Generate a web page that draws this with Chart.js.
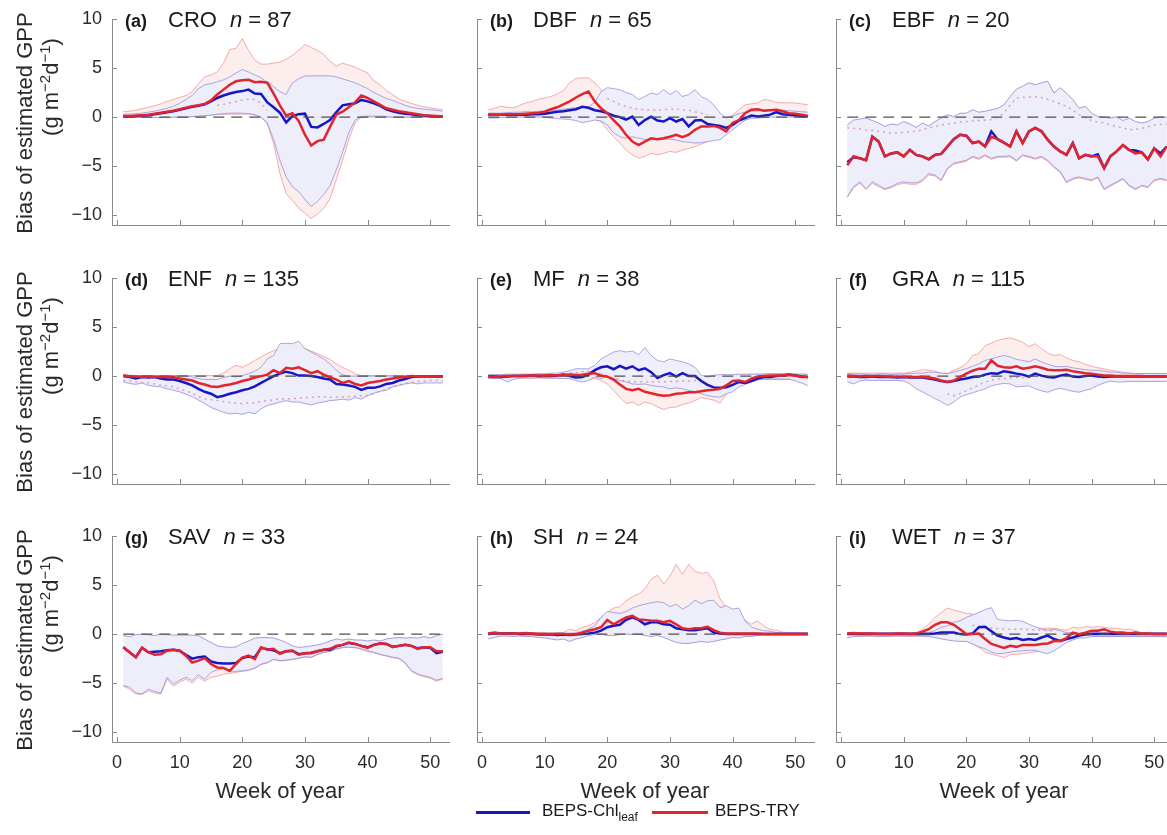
<!DOCTYPE html>
<html><head><meta charset="utf-8">
<script src="https://cdn.jsdelivr.net/npm/chart.js@4.4.1/dist/chart.umd.min.js"></script>
<style>
html,body{margin:0;padding:0;background:#fff;}
body{width:1167px;height:835px;overflow:hidden;position:relative;font-family:"Liberation Sans",Arial,Helvetica,sans-serif;color:#222;}
canvas{position:absolute;}
.ttl{position:absolute;font-size:22px;white-space:nowrap;line-height:24px;color:#1a1a1a;}
.ttl b{display:inline-block;width:43px;font-size:18px;}
.yt{position:absolute;white-space:nowrap;transform:translate(-50%,-50%) rotate(-90deg);font-size:22px;color:#2a2a2a;line-height:24px;}
.yt sup{font-size:15px;vertical-align:8px;line-height:0;}
.xt{position:absolute;white-space:nowrap;transform:translate(-50%,-50%);font-size:22px;color:#2a2a2a;}
.lg{position:absolute;height:3px;}
.lt{position:absolute;white-space:nowrap;font-size:17px;color:#1a1a1a;transform:translateY(-50%);}
.lt sub{font-size:12px;vertical-align:-5px;line-height:0;}
</style></head><body>
<script>
// ---------------- DATA ----------------
const weeks = [1,2,3,4,5,6,7,8,9,10,11,12,13,14,15,16,17,18,19,20,21,22,23,24,25,26,27,28,29,30,31,32,33,34,35,36,37,38,39,40,41,42,43,44,45,46,47,48,49,50,51,52];
const xTicks = [0,10,20,30,40,50];
const yTicks = [-10,-5,0,5,10];

// (a) CRO
const croBlue = [0.05,0.05,0.1,0.15,0.2,0.3,0.4,0.5,0.6,0.75, 0.9,1.05,1.15,1.3,1.6,1.95,2.2,2.4,2.55,2.65, 2.8,2.4,2.35,1.5,1.0,0.45,-0.55,0.1,0.3,0.35, -1.0,-1.05,-0.7,-0.3,0.5,1.2,1.3,1.4,1.75,1.6, 1.4,1.15,0.8,0.6,0.45,0.35,0.3,0.2,0.15,0.1, 0.05,0.05];
const croRed = [0.1,0.1,0.15,0.2,0.25,0.35,0.45,0.55,0.65,0.8, 0.95,1.1,1.2,1.35,1.7,2.3,2.8,3.3,3.65,3.75, 3.8,3.55,3.6,3.5,2.4,1.2,0.15,0.4,-0.4,-1.8, -2.9,-2.45,-2.3,-1.0,0.25,0.55,1.0,1.5,2.2,1.95, 1.6,1.25,0.9,0.75,0.6,0.5,0.4,0.3,0.2,0.15, 0.1,0.05];
const croBlueHi = [0.3,0.3,0.35,0.4,0.5,0.6,0.75,0.9,1.1,1.4, 1.8,2.2,2.9,3.3,3.4,3.6,3.8,4.1,4.5,4.85, 4.6,4.3,4.0,3.55,3.1,2.6,2.3,3.5,3.9,4.2, 4.2,4.2,4.2,4.2,4.1,3.9,3.7,3.5,3.2,2.9, 2.5,2.2,1.9,1.7,1.45,1.2,1.0,0.9,0.8,0.75, 0.7,0.6];
const croBlueLo = [0,0,-0.05,-0.05,-0.05,-0.05,-0.05,-0.05,0,0, 0,0.05,0.1,0.15,0.2,0.3,0.35,0.4,0.4,0.4, 0.35,0.25,0,-0.6,-2.3,-4.4,-6.1,-7.1,-7.6,-8.4, -9.1,-8.6,-7.9,-7.0,-5.4,-3.6,-1.6,-0.3,0.05,0.1, 0.1,0.1,0.05,0,0,0,0,0,0,0, 0,0];
const croRedHi = [0.55,0.6,0.7,0.85,1.0,1.15,1.35,1.6,1.8,2.0, 2.2,2.6,3.4,4.1,4.3,4.6,5.5,6.9,7.0,8.0, 6.8,5.8,5.4,5.4,5.5,5.6,5.9,6.3,6.8,7.4, 7.1,6.8,6.4,5.7,5.2,5.5,5.3,5.1,4.8,4.5, 3.7,3.3,2.7,2.3,1.85,1.6,1.4,1.2,1.05,0.95, 0.85,0.75];
const croRedLo = [0,0,0,0,0,0,0,0,0,0, 0,0.05,0.1,0.15,0.2,0.25,0.3,0.3,0.3,0.3, 0.3,0.2,0,-0.7,-2.7,-5.7,-7.8,-8.5,-9.3,-9.8, -10.35,-9.9,-9.3,-8.3,-6.4,-4.4,-2.3,-0.6,0,0, 0,0,0,0,0,0,0,0,0,0, 0,0];
const croDot = [null,null,null,null,null,null,null,null,null,null, null,null,null,null,null,1.2,1.3,1.45,1.6,1.75, 1.8,1.8,1.4,0.7,null,null,null,null,null,null, null,null,null,null,null,null,null,null,null,null, null,null,null,null,null,null,null,null,null,null, null,null];

// (b) DBF
const dbfBlue = [0.25,0.25,0.25,0.25,0.25,0.25,0.25,0.3,0.3,0.35, 0.45,0.55,0.6,0.7,0.8,1.05,0.95,0.7,0.6,0.4, 0.15,0,-0.25,0.05,-0.8,-0.3,0.05,-0.35,-0.45,-0.1, -0.45,-0.2,-0.95,-0.35,-0.3,-0.7,-0.8,-0.9,-1.1,-0.8, -0.35,-0.1,0.15,0.05,0.15,0.25,0.5,0.3,0.25,0.2, 0.1,0.05];
const dbfRed = [0.25,0.25,0.25,0.3,0.3,0.3,0.35,0.4,0.45,0.55, 0.8,1.0,1.3,1.6,2.0,2.35,2.6,1.6,0.9,0.4, -0.3,-0.95,-1.8,-2.5,-2.85,-2.5,-2.15,-2.25,-2.15,-2.0, -1.8,-2.05,-1.8,-1.3,-0.95,-0.95,-0.9,-1.1,-1.45,-0.6, -0.3,0.4,0.75,0.8,0.65,0.7,0.75,0.6,0.4,0.35, 0.25,0.15];
const dbfBlueHi = [0.4,0.4,0.4,0.45,0.5,0.5,0.55,0.55,0.6,0.6, 0.65,0.7,0.8,0.9,0.95,1.0,1.05,1.5,2.6,3.0, 2.9,2.8,2.5,2.3,1.8,2.1,2.45,2.3,2.8,2.3, 2.7,2.1,2.3,2.8,2.1,1.8,1.25,0.4,-0.1,0.1, 0.35,0.5,0.6,0.65,0.7,0.75,0.75,0.7,0.65,0.6, 0.55,0.5];
const dbfBlueLo = [-0.1,-0.1,-0.05,-0.05,0,0,0,0,0,0, -0.1,-0.15,-0.2,-0.25,-0.35,-0.55,-0.45,-0.3,-0.4,-0.8, -1.6,-2.0,-2.15,-2.0,-2.15,-2.3,-2.3,-2.3,-2.25,-2.25, -2.35,-2.5,-2.55,-2.65,-2.6,-2.5,-2.4,-2.3,-1.8,-1.3, -0.8,-0.3,-0.15,-0.1,-0.05,0,0,0,0,0, 0,0];
const dbfRedHi = [0.75,0.9,1.1,1.0,0.95,1.2,1.45,1.6,1.8,1.95, 2.1,2.35,2.7,3.5,3.95,4.0,4.0,3.5,2.8,2.1, 1.5,1.1,0.9,0.8,0.7,0.7,0.8,0.9,1.0,1.1, 1.2,1.2,1.1,0.9,0.6,0.3,0.1,-0.1,-0.1,0.2, 0.75,1.25,1.35,1.45,1.8,1.7,1.5,1.45,1.45,1.45, 1.35,1.25];
const dbfRedLo = [0.05,0.05,0.05,0.05,0.05,0.05,0.05,0.05,0.05,0.05, 0.05,0,0,0,0.05,0.15,0.1,-0.2,-0.45,-1.3, -2.0,-2.65,-3.35,-3.85,-4.2,-4.0,-3.7,-3.85,-3.7,-3.5, -3.6,-3.35,-3.2,-3.0,-2.75,-2.5,-2.15,-1.8,-1.45,-1.1, -0.6,-0.3,0,0.1,0.1,0.1,0.1,0.1,0.1,0.1, 0.1,0.1];
const dbfDot = [null,null,null,null,null,null,null,null,null,null, null,null,null,null,null,null,null,null,null,1.9, 1.6,1.3,1.1,0.9,0.8,0.75,0.7,0.7,0.75,0.8, 0.8,0.75,0.7,0.55,0.4,0.2,null,null,null,null, null,null,null,null,null,null,null,null,null,null, null,null];

// (c) EBF
const ebfBlue = [-4.6,-4.1,-4.2,-4.4,-2.0,-2.5,-4.0,-3.7,-3.6,-4.0, -3.35,-3.85,-4.0,-4.3,-3.85,-3.75,-3.0,-2.25,-1.8,-1.9, -2.65,-2.5,-3.0,-1.45,-2.25,-2.6,-3.0,-1.45,-2.65,-1.45, -1.1,-1.45,-2.3,-3.0,-3.5,-3.85,-2.65,-4.2,-3.85,-4.0, -3.8,-5.2,-4.0,-3.5,-2.85,-3.35,-3.4,-3.6,-4.3,-3.2, -3.7,-3.0];
const ebfRed = [-4.9,-4.0,-4.2,-4.4,-2.0,-2.5,-4.0,-3.7,-3.6,-4.0, -3.35,-3.85,-4.0,-4.3,-3.85,-3.75,-3.0,-2.25,-1.8,-1.9, -2.65,-2.5,-3.0,-2.0,-2.25,-2.6,-3.0,-1.45,-2.65,-1.45, -1.1,-1.45,-2.3,-3.0,-3.5,-3.85,-2.65,-4.2,-3.85,-4.0, -4.0,-5.2,-4.0,-3.5,-2.85,-3.35,-3.7,-3.6,-4.3,-3.2, -4.0,-3.0];
const ebfBlueHi = [-0.8,-0.3,-0.2,-0.1,-0.35,-0.6,-0.95,-0.7,-0.8,-0.45, -0.7,-1.05,-0.6,-0.9,-0.45,-0.1,0.25,0.05,0.4,0.4, 0.75,0.5,0.6,0.75,0.9,1.25,2.1,2.85,3.15,3.5, 3.3,3.5,3.65,2.45,3.0,2.45,1.8,0.9,1.1,0.4, 0.05,0,-0.1,0.05,-0.35,-0.1,-0.45,-0.6,-0.45,-0.1, 0,0];
const ebfBlueLo = [-8.1,-7.1,-6.6,-7.3,-6.6,-6.95,-7.3,-7.1,-6.75,-6.6, -6.7,-6.7,-6.4,-5.75,-5.9,-6.4,-5.2,-4.7,-4.55,-4.4, -4.0,-4.2,-3.85,-4.2,-4.0,-4.0,-3.95,-4.4,-3.85,-4.0, -4.2,-4.0,-4.4,-5.05,-5.55,-6.6,-6.25,-6.1,-6.25,-6.4, -6.1,-7.3,-6.95,-6.6,-6.25,-6.95,-7.3,-6.95,-7.1,-6.4, -6.25,-6.4];
const ebfRedHi = [-0.85,-0.35,-0.25,-0.15,-0.4,-0.65,-1.0,-0.75,-0.85,-0.5, -0.75,-1.1,-0.65,-0.95,-0.5,-0.15,0.2,0.0,0.35,0.35, 0.7,0.45,0.55,0.7,0.85,1.2,2.05,2.8,3.1,3.45, 3.25,3.45,3.6,2.4,2.95,2.4,1.75,0.85,1.05,0.35, 0.0,-0.05,-0.15,0.0,-0.4,-0.15,-0.5,-0.65,-0.5,-0.15, -0.05,-0.05];
const ebfRedLo = [-8.2,-7.2,-6.75,-7.4,-6.75,-7.1,-7.4,-7.2,-6.9,-6.75, -6.85,-6.85,-6.55,-5.9,-6.0,-6.5,-5.3,-4.8,-4.65,-4.5, -4.1,-4.3,-3.95,-4.3,-4.1,-4.1,-4.05,-4.5,-3.95,-4.1, -4.3,-4.1,-4.5,-5.15,-5.65,-6.7,-6.35,-6.2,-6.35,-6.5, -6.2,-7.4,-7.05,-6.7,-6.35,-7.05,-7.4,-7.05,-7.2,-6.5, -6.35,-6.5];
const ebfDot = [-1.1,-1.15,-1.2,-1.3,-1.35,-1.45,-1.55,-1.65,-1.6,-1.55, -1.5,-1.45,-1.3,-1.1,-0.95,-0.8,-0.7,-0.6,-0.5,-0.45, -0.4,-0.35,-0.3,-0.25,0.0,0.4,1.25,1.95,2.0,2.05, 2.05,2.0,1.8,1.6,1.35,1.1,0.7,0.25,-0.05,-0.35, -0.5,-0.6,-0.8,-0.95,-1.1,-1.3,-1.25,-1.15,-1.0,-0.8, -0.75,-0.7];

// (d) ENF
const enfBlue = [0,-0.1,-0.25,-0.1,-0.15,-0.1,-0.25,-0.35,-0.35,-0.5, -0.7,-0.95,-1.3,-1.6,-1.8,-2.15,-2.0,-1.8,-1.65,-1.45, -1.3,-1.05,-0.7,-0.35,0,0.25,0.45,0.3,0.05,0.05, 0,-0.1,-0.25,-0.35,-0.8,-0.85,-0.95,-1.1,-1.4,-1.2, -1.2,-1.05,-0.8,-0.7,-0.45,-0.3,-0.1,-0.05,-0.05,-0.05, -0.05,-0.05];
const enfRed = [0.05,-0.05,-0.05,-0.1,-0.05,-0.1,-0.1,-0.1,-0.1,-0.25, -0.35,-0.45,-0.7,-0.85,-1.05,-1.1,-0.95,-0.85,-0.7,-0.5, -0.35,-0.15,0,0.15,0.6,0.3,0.85,0.75,0.9,0.6, 0.3,0.5,0.15,-0.1,-0.35,-0.7,-0.5,-0.8,-0.95,-0.7, -0.6,-0.5,-0.35,-0.25,-0.15,-0.1,0,-0.05,-0.05,-0.05, -0.05,-0.05];
const enfBlueHi = [0.15,0.1,0.05,0.05,0.05,0.05,0.05,0.05,0.05,0.05, 0.05,-0.1,-0.25,-0.35,-0.35,-0.35,-0.15,0,-0.1,0.05, 0.25,0.5,0.9,1.75,2.1,3.3,3.35,3.3,3.55,2.8, 2.45,2.1,1.75,1.25,0.6,0.15,0,0,0,0, 0,0,0,0,0,0,0,0,0,0, 0,0];
const enfBlueLo = [-0.6,-0.75,-0.85,-0.7,-0.95,-1.05,-1.1,-1.3,-1.45,-1.6, -1.85,-2.1,-2.45,-2.8,-3.2,-3.45,-3.7,-3.85,-3.8,-3.9, -3.7,-3.85,-3.35,-3.0,-2.85,-2.65,-2.5,-2.65,-2.65,-2.8, -2.95,-2.75,-2.65,-2.5,-2.45,-2.35,-2.45,-2.2,-2.35,-2.0, -1.75,-1.55,-1.45,-1.1,-0.95,-0.8,-0.7,-0.8,-0.7,-0.7, -0.7,-0.7];
const enfRedHi = [0.1,0.05,0.05,0.05,0.05,0.05,0.05,0.05,0.05,0.05, 0.05,0.05,0.05,0.05,0.05,0.05,0.3,0.75,1.1,0.9, 1.2,1.6,1.95,2.3,2.6,2.8,3.0,3.1,3.0,2.8, 2.55,2.3,2.0,1.7,1.25,0.9,0.6,0.25,0.05,0.05, 0.05,0.05,0.05,0.05,0.05,0.05,0.05,0.05,0.05,0.05, 0.05,0.05];
const enfRedLo = [-0.5,-0.65,-0.75,-0.6,-0.85,-0.95,-1.0,-1.2,-1.35,-1.5, -1.75,-2.0,-2.35,-2.7,-3.1,-3.35,-3.6,-3.75,-3.7,-3.8, -3.6,-3.75,-3.25,-2.9,-2.75,-2.55,-2.4,-2.55,-2.55,-2.7, -2.85,-2.65,-2.55,-2.4,-2.35,-2.25,-2.35,-2.1,-2.25,-1.9, -1.65,-1.45,-1.35,-1.0,-0.85,-0.7,-0.6,-0.7,-0.6,-0.6, -0.6,-0.6];
const enfDot = [-0.45,-0.5,-0.6,-0.65,-0.7,-0.8,-0.9,-1.0,-1.1,-1.3, -1.5,-1.75,-2.1,-2.3,-2.4,-2.5,-2.6,-2.7,-2.75,-2.8, -2.75,-2.7,-2.6,-2.5,-2.4,-2.3,-2.3,-2.3,-2.25,-2.2, -2.15,-2.1,-2.1,-2.15,-2.15,-2.1,-2.1,-2.05,-2.0,-1.95, -1.8,-1.55,-1.3,-1.1,-0.9,-0.75,-0.65,-0.55,-0.5,-0.45, -0.45,-0.45];

// (e) MF
const mfBlue = [0,-0.05,-0.1,-0.05,0,0,0,0.05,0,0, 0,0.05,0.15,0,-0.15,-0.1,0.15,0.6,0.9,1.0, 0.7,1.05,0.75,1.0,0.6,0.8,0.4,-0.2,0.1,0.3, -0.05,0.3,0,0,-0.5,-0.9,-1.15,-1.2,-1.15,-0.9, -0.6,-0.7,-0.5,-0.25,-0.1,-0.1,0,0.05,0.15,0.05, -0.05,-0.1];
const mfRed = [-0.05,-0.1,-0.05,0,0,0,0.05,0.05,0.05,0.05, 0.1,0.05,0.1,0.15,0.1,0.15,0.25,0.3,0.05,-0.05, -0.35,-0.85,-1.3,-1.45,-1.3,-1.6,-1.75,-1.9,-2.0,-1.95, -1.8,-1.75,-1.65,-1.65,-1.55,-1.45,-1.4,-1.3,-0.95,-0.5, -0.45,-0.6,-0.25,-0.05,0,0.05,0.05,0.05,0.1,0.05, -0.1,-0.1];
const mfBlueHi = [0.1,0.15,0.15,0.2,0.2,0.2,0.2,0.2,0.25,0.25, 0.3,0.3,0.4,0.55,0.75,0.75,0.75,1.1,1.75,2.1, 2.45,2.6,2.45,2.55,2.2,2.9,2.1,1.6,1.45,1.75, 1.6,1.45,1.25,0.9,0.1,-0.1,0.1,0.15,0.15,0.15, 0.2,0.2,0.2,0.2,0.2,0.25,0.25,0.25,0.25,0.2, 0.2,0.15];
const mfBlueLo = [-0.25,-0.25,-0.25,-0.6,-0.35,-0.2,-0.2,-0.2,-0.15,-0.2, -0.2,-0.2,-0.25,-0.25,-0.45,-0.6,-0.45,-0.1,-0.25,-0.05, -0.25,-0.45,-0.6,-0.8,-0.85,-0.8,-0.95,-1.05,-1.1,-1.3, -1.2,-1.3,-1.45,-1.6,-1.8,-2.0,-2.1,-2.15,-1.8,-1.6, -1.1,-0.85,-0.6,-0.4,-0.3,-0.3,-0.3,-0.3,-0.3,-0.5, -0.7,-0.95];
const mfRedHi = [0.1,0.15,0.15,0.15,0.15,0.15,0.15,0.15,0.15,0.15, 0.15,0.15,0.3,0.35,0.4,0.45,0.5,0.5,0.4,0.3, 0.2,0.05,-0.1,-0.2,-0.3,-0.3,-0.4,-0.5,-0.5,-0.5, -0.45,-0.4,-0.4,-0.35,-0.3,-0.3,-0.2,-0.1,0,0.1, 0.15,0.15,0.2,0.2,0.2,0.2,0.2,0.2,0.2,0.2, 0.2,0.2];
const mfRedLo = [-0.2,-0.25,-0.2,-0.3,-0.25,-0.2,-0.2,-0.2,-0.2,-0.2, -0.2,-0.2,-0.2,-0.25,-0.3,-0.35,-0.3,-0.25,-0.45,-0.8, -1.45,-2.15,-2.8,-2.65,-3.0,-2.65,-2.8,-3.15,-3.4,-3.2, -3.15,-2.9,-2.75,-2.5,-2.2,-2.3,-2.45,-2.75,-1.8,-1.3, -0.85,-0.7,-0.4,-0.35,-0.35,-0.35,-0.35,-0.35,-0.35,-0.35, -0.35,-0.35];
const mfDot = [null,null,null,null,null,null,null,null,null,null, null,null,null,0.3,0.35,0.45,0.5,0.45,0.2,0, -0.2,-0.4,-0.5,-0.55,-0.6,-0.6,-0.6,-0.6,-0.6,-0.55, -0.55,-0.5,-0.5,-0.45,-0.4,null,null,null,null,null, null,null,null,null,null,null,null,null,null,null, null,null];

// (f) GRA
const graBlue = [-0.05,-0.05,-0.1,-0.1,-0.05,-0.1,-0.1,-0.1,-0.15,-0.1, -0.15,-0.15,-0.15,-0.25,-0.35,-0.5,-0.6,-0.5,-0.35,-0.25, -0.1,-0.05,0.15,0.3,0.25,0.5,0.4,0.25,0.15,-0.05, 0.25,0.05,-0.1,-0.15,0.05,0.15,-0.05,-0.1,0,0.05, -0.05,-0.1,-0.05,-0.05,-0.05,-0.05,-0.05,-0.05,-0.05,-0.05, -0.05,-0.05];
const graRed = [0.05,0,-0.05,0,-0.05,0,-0.05,-0.1,-0.05,-0.1, -0.1,-0.1,-0.1,-0.15,-0.25,-0.45,-0.6,-0.45,-0.1,0.25, 0.55,0.75,0.75,1.6,1.05,0.9,0.85,1.0,0.75,0.85, 1.0,0.85,0.65,0.6,0.6,0.65,0.5,0.4,0.3,0.25, 0.15,0.05,0.05,0,0,0,0,0,-0.05,-0.05, -0.05,-0.05];
const graBlueHi = [0.25,0.2,0.2,0.15,0.15,0.2,0.2,0.15,0.2,0.2, 0.25,0.3,0.3,0.4,0.4,0.3,0.25,0.4,0.6,0.75, 1.0,1.25,1.6,1.75,1.95,2.1,1.95,1.7,1.6,1.45, 1.75,1.45,1.2,1.0,0.95,1.0,0.85,0.75,0.65,0.6, 0.6,0.5,0.4,0.4,0.3,0.3,0.25,0.25,0.25,0.25, 0.25,0.25];
const graBlueLo = [-0.6,-0.8,-0.5,-0.4,-0.45,-0.45,-0.45,-0.45,-0.45,-0.5, -0.8,-1.3,-1.6,-1.95,-2.3,-2.6,-3.0,-2.65,-2.15,-1.9, -1.7,-1.5,-1.3,-1.0,-0.85,-0.75,-0.8,-1.1,-1.05,-1.0, -1.3,-1.5,-1.65,-1.4,-1.25,-1.4,-1.55,-1.65,-1.45,-1.3, -0.95,-0.7,-0.5,-0.6,-0.6,-0.55,-0.55,-0.55,-0.55,-0.55, -0.55,-0.55];
const graRedHi = [0.3,0.3,0.3,0.3,0.3,0.3,0.3,0.3,0.3,0.3, 0.4,0.5,0.65,0.6,0.5,0.3,0.25,0.6,0.85,1.25, 2.1,2.3,3.1,3.35,3.65,3.8,3.9,3.7,3.45,3.0, 3.3,2.8,2.35,2.1,2.2,1.85,1.6,1.45,1.2,1.0, 0.85,0.75,0.6,0.5,0.4,0.3,0.25,0.25,0.25,0.25, 0.25,0.25];
const graRedLo = [-0.4,-0.5,-0.4,-0.35,-0.35,-0.35,-0.4,-0.4,-0.4,-0.45, -0.6,-0.85,-1.3,-1.75,-2.0,-2.2,-2.45,-2.1,-1.75,-1.45, -1.3,-1.2,-1.0,-0.8,-0.6,-0.5,-0.55,-0.85,-0.9,-0.85, -1.1,-1.3,-1.45,-1.2,-1.1,-1.25,-1.4,-1.5,-1.35,-1.2, -0.85,-0.6,-0.45,-0.5,-0.5,-0.45,-0.45,-0.45,-0.45,-0.45, -0.45,-0.45];
const graDot = [null,null,null,null,null,null,null,null,null,null, null,null,null,null,null,null,-1.8,-2.0,-1.8,-1.5, -1.2,-0.9,-0.6,-0.4,-0.3,-0.25,-0.2,-0.15,-0.15,-0.1, null,null,null,null,null,null,null,null,null,null, null,null,null,null,null,null,null,null,null,null, null,null];

// (g) SAV
const savBlue = [-1.35,-1.85,-2.35,-1.4,-1.85,-1.8,-1.75,-1.65,-1.6,-1.7, -2.1,-2.5,-2.35,-2.3,-2.8,-2.95,-3.0,-3.0,-2.95,-2.45, -2.3,-2.35,-1.4,-1.55,-1.65,-1.95,-1.75,-1.7,-2.05,-1.95, -1.9,-1.75,-1.6,-1.6,-1.25,-1.1,-0.9,-1.0,-1.2,-1.35, -1.1,-0.95,-1.0,-1.3,-1.2,-1.1,-1.2,-1.45,-1.35,-1.4, -1.95,-1.8];
const savRed = [-1.35,-1.85,-2.35,-1.4,-1.85,-2.1,-2.05,-1.7,-1.6,-1.7, -2.2,-2.9,-2.7,-2.45,-3.05,-3.4,-3.45,-3.75,-3.05,-2.4, -2.2,-2.55,-1.35,-1.6,-1.5,-2.0,-1.75,-1.7,-2.1,-1.95, -1.95,-1.75,-1.6,-1.5,-1.2,-1.1,-0.85,-1.0,-1.2,-1.4, -1.1,-0.95,-1.0,-1.3,-1.2,-1.1,-1.2,-1.5,-1.35,-1.35, -1.75,-1.75];
const savBlueHi = [-0.15,-0.25,-0.05,0,-0.05,-0.15,0,-0.05,-0.1,-0.1, -0.1,-0.1,-0.15,-0.5,-0.85,-1.2,-1.3,-1.35,-1.3,-0.95, -0.7,-0.4,-0.35,-0.35,-0.4,-0.6,-0.85,-1.2,-1.35,-1.3, -1.2,-1.1,-0.95,-0.7,-0.5,-0.6,-0.5,-0.6,-0.6,-0.7, -0.6,-0.7,-0.5,-0.4,-0.35,-0.4,-0.35,-0.4,-0.25,-0.4, -0.15,0];
const savBlueLo = [-5.25,-5.4,-6.0,-6.1,-5.6,-5.85,-6.0,-4.4,-5.1,-4.7, -4.4,-4.75,-4.15,-4.6,-3.9,-3.65,-3.55,-3.75,-3.8,-3.75, -3.65,-3.45,-3.05,-2.9,-2.55,-2.7,-2.65,-2.55,-2.45,-2.3, -2.35,-2.05,-1.85,-1.75,-1.5,-1.35,-1.3,-1.35,-1.5,-1.7, -1.85,-2.05,-2.2,-2.35,-2.45,-2.9,-3.7,-4.05,-4.25,-4.4, -4.7,-4.5];
const savRedHi = [-0.2,-0.3,-0.1,-0.05,-0.1,-0.2,-0.05,-0.1,-0.15,-0.15, -0.15,-0.15,-0.2,-0.55,-0.9,-1.25,-1.35,-1.4,-1.35,-1.0, -0.75,-0.45,-0.4,-0.4,-0.45,-0.65,-0.9,-1.25,-1.4,-1.35, -1.25,-1.15,-1.0,-0.75,-0.55,-0.65,-0.55,-0.65,-0.65,-0.75, -0.65,-0.75,-0.55,-0.45,-0.4,-0.45,-0.4,-0.45,-0.3,-0.45, -0.2,-0.05];
const savRedLo = [-5.3,-5.6,-6.1,-6.15,-5.8,-6.0,-6.1,-4.6,-5.3,-4.9, -4.6,-5.0,-4.4,-4.8,-4.4,-4.3,-4.1,-4.0,-3.9,-3.8, -3.7,-3.5,-3.1,-2.95,-2.6,-2.75,-2.7,-2.6,-2.5,-2.35, -2.4,-2.1,-1.9,-1.8,-1.55,-1.4,-1.35,-1.4,-1.55,-1.75, -1.9,-2.1,-2.25,-2.4,-2.5,-3.0,-3.8,-4.15,-4.35,-4.5, -4.8,-4.6];

// (h) SH
const shBlue = [0,0.05,0.05,0.05,0.05,0,0,0,-0.05,-0.05, -0.05,-0.1,-0.05,-0.1,-0.05,0,0.05,0.15,0.35,0.7, 0.85,0.95,1.45,1.7,1.45,1.0,1.2,1.2,1.0,0.95, 0.6,0.5,0.4,0.4,0.5,0.6,0.15,0.05,0,0, 0,0,0,0,0,0,0,0,0,0, 0,0];
const shRed = [0.05,0.15,0.05,0.05,0.05,0.05,0.1,0.05,0,0, -0.05,0,0,-0.05,0,0.15,0.35,0.5,0.7,1.45, 1.0,1.35,1.7,1.85,1.5,1.45,1.35,1.35,1.2,1.35, 1.0,0.6,0.5,0.6,0.6,0.75,0.4,0.15,0.05,0.05, 0.05,0.05,0.05,0.05,0,0,0,0,0,0, 0,0];
const shBlueHi = [0.1,0.15,0.1,0.1,0.1,0.1,0.1,0.1,0.1,0.1, 0.1,0.1,0.1,0.1,0.1,0.3,0.5,0.85,1.7,2.3, 2.2,2.1,2.3,2.65,2.9,3.05,3.2,3.3,3.2,2.8, 3.05,2.55,2.9,3.45,3.1,3.4,3.45,2.7,2.9,2.55, 2.65,1.35,0.7,0.5,0.35,0.3,0.15,0.15,0.15,0.15, 0.15,0.15];
const shBlueLo = [-0.5,-0.35,-0.2,-0.2,-0.25,-0.2,-0.25,-0.25,-0.35,-0.4, -0.5,-0.6,-0.5,-0.75,-0.5,-0.35,-0.15,-0.05,0,-0.15, -0.15,-0.05,0,-0.05,0,-0.15,-0.25,-0.15,-0.35,-0.6, -0.85,-0.95,-0.95,-0.85,-0.75,-0.85,-0.75,-0.6,-0.5,-0.35, -0.4,-0.25,-0.25,-0.15,-0.1,-0.1,-0.1,-0.1,-0.1,-0.1, -0.1,-0.1];
const shRedHi = [0.15,0.15,0.15,0.15,0.15,0.15,0.15,0.15,0.15,0.15, 0.15,0.15,0.15,0.5,0.35,0.7,0.85,1.2,1.7,2.2, 2.65,2.8,3.4,3.8,4.1,4.6,5.6,6.0,5.1,5.9, 7.1,6.1,7.1,6.4,6.2,6.3,5.4,3.6,2.7,2.3, 2.0,1.4,1.0,1.35,0.8,0.5,0.4,0.2,0.15,0.15, 0.15,0.15];
const shRedLo = [-0.4,-0.3,-0.15,-0.15,-0.2,-0.15,-0.2,-0.2,-0.3,-0.35, -0.45,-0.55,-0.45,-0.7,-0.45,-0.3,-0.1,0,0.05,-0.1, -0.1,0,0.05,0,0.05,-0.1,-0.2,-0.1,-0.3,-0.55, -0.8,-0.9,-0.9,-0.8,-0.7,-0.8,-0.7,-0.55,-0.45,-0.3, -0.35,-0.2,-0.2,-0.1,-0.05,-0.05,-0.05,-0.05,-0.05,-0.05, -0.05,-0.05];

// (i) WET
const wetBlue = [0,0,0,0,0,0,0,0,0,0, 0,0,0,0,0.05,0.15,0.15,0.15,0,-0.05, 0.05,0.7,0.75,0.3,-0.15,-0.35,-0.5,-0.4,-0.6,-0.5, -0.6,-0.35,-0.15,-0.5,-0.7,-0.5,-0.35,-0.15,-0.05,0, 0,0,0,0,0,0,0,0,0,0, 0,0];
const wetRed = [0.05,0.1,0.05,0.05,0.05,0,0,0,0.05,0.05, 0,0.05,0.25,0.5,0.95,1.2,1.2,0.95,0.5,0, 0,0.05,-0.5,-1.0,-1.2,-1.4,-1.2,-1.3,-1.1,-1.1, -1.1,-1.0,-0.95,-0.7,-0.7,-0.4,0.15,0,0.15,0.35, 0.35,0.5,0.25,0.15,0.15,0.05,0.15,0.05,0.05,0, 0,0];
const wetBlueHi = [0.15,0.15,0.15,0.15,0.15,0.15,0.15,0.15,0.15,0.15, 0.15,0.15,0.15,0.15,0.35,0.7,0.85,1.2,1.35,1.7, 1.95,2.2,2.5,2.7,1.5,1.4,1.35,1.4,1.3,1.0, 0.75,0.5,0.4,0.5,0.35,0.15,0.15,0.05,0.15,0.15, 0.15,0.15,0.15,0.15,0.15,0.15,0.15,0.15,0.15,0.15, 0.15,0.15];
const wetBlueLo = [-0.4,-0.25,-0.2,-0.2,-0.2,-0.25,-0.25,-0.2,-0.2,-0.2, -0.2,-0.2,-0.2,-0.25,-0.35,-0.5,-0.6,-0.7,-0.75,-0.75, -1.0,-1.3,-1.5,-1.85,-2.0,-1.95,-1.85,-1.75,-1.7,-1.65, -1.65,-1.85,-2.0,-1.7,-1.3,-0.85,-0.6,-0.4,-0.4,-0.25, -0.25,-0.25,-0.25,-0.25,-0.25,-0.25,-0.25,-0.25,-0.25,-0.25, -0.25,-0.25];
const wetRedHi = [0.15,0.15,0.15,0.15,0.15,0.15,0.15,0.15,0.15,0.15, 0.15,0.15,0.5,1.0,1.7,2.2,2.65,2.45,2.3,2.1, 2.05,1.9,1.5,1.0,0.8,0.7,0.6,0.6,0.6,0.6, 0.6,0.6,0.6,0.6,0.5,0.4,0.7,0.6,0.75,0.7, 0.75,0.7,0.6,0.6,0.5,0.5,0.35,0.15,0.15,0.15, 0.15,0.15];
const wetRedLo = [-0.35,-0.2,-0.2,-0.2,-0.2,-0.2,-0.2,-0.2,-0.2,-0.2, -0.2,-0.2,-0.2,-0.2,-0.3,-0.45,-0.55,-0.65,-0.7,-0.7, -0.95,-1.35,-1.85,-2.05,-2.2,-2.4,-2.1,-2.05,-2.0,-1.9, -1.8,-1.7,-1.55,-1.2,-0.95,-0.7,-0.4,-0.3,-0.25,-0.25, -0.25,-0.25,-0.25,-0.25,-0.25,-0.25,-0.25,-0.25,-0.25,-0.25, -0.25,-0.25];
const wetDot = [null,null,null,null,null,null,null,null,null,null, null,null,null,null,null,null,null,null,null,null, 0.9,0.8,0.7,0.6,0.55,0.5,0.5,0.5,0.5,0.45, 0.45,0.4,0.35,0.3,null,null,null,null,null,null, null,null,null,null,null,null,null,null,null,null, null,null];

const panelDefs = [
  {tag:'(a)', name:'CRO', n:'87',  blue:croBlue, red:croRed, bHi:croBlueHi, bLo:croBlueLo, rHi:croRedHi, rLo:croRedLo, dot:croDot},
  {tag:'(b)', name:'DBF', n:'65',  blue:dbfBlue, red:dbfRed, bHi:dbfBlueHi, bLo:dbfBlueLo, rHi:dbfRedHi, rLo:dbfRedLo, dot:dbfDot},
  {tag:'(c)', name:'EBF', n:'20',  blue:ebfBlue, red:ebfRed, bHi:ebfBlueHi, bLo:ebfBlueLo, rHi:ebfRedHi, rLo:ebfRedLo, dot:ebfDot},
  {tag:'(d)', name:'ENF', n:'135', blue:enfBlue, red:enfRed, bHi:enfBlueHi, bLo:enfBlueLo, rHi:enfRedHi, rLo:enfRedLo, dot:enfDot},
  {tag:'(e)', name:'MF',  n:'38',  blue:mfBlue,  red:mfRed,  bHi:mfBlueHi,  bLo:mfBlueLo,  rHi:mfRedHi,  rLo:mfRedLo,  dot:mfDot},
  {tag:'(f)', name:'GRA', n:'115', blue:graBlue, red:graRed, bHi:graBlueHi, bLo:graBlueLo, rHi:graRedHi, rLo:graRedLo, dot:graDot},
  {tag:'(g)', name:'SAV', n:'33',  blue:savBlue, red:savRed, bHi:savBlueHi, bLo:savBlueLo, rHi:savRedHi, rLo:savRedLo, dot:null},
  {tag:'(h)', name:'SH',  n:'24',  blue:shBlue,  red:shRed,  bHi:shBlueHi,  bLo:shBlueLo,  rHi:shRedHi,  rLo:shRedLo,  dot:null},
  {tag:'(i)', name:'WET', n:'37',  blue:wetBlue, red:wetRed, bHi:wetBlueHi, bLo:wetBlueLo, rHi:wetRedHi, rLo:wetRedLo, dot:wetDot}
];

// ---------------- STYLE / LAYOUT ----------------
const BLUE = '#1616c4', RED = '#e3242b';
const BLUE_EDGE = 'rgba(125,125,215,0.65)', RED_EDGE = 'rgba(236,130,130,0.65)';
const BLUE_FILL = 'rgba(237,237,252,0.9)', RED_FILL = 'rgba(246,170,170,0.2)';
const DOT = 'rgba(215,140,165,0.8)';
const AXIS = '#8a8a8a', TICK = '#2a2a2a', ZERO = '#505050';
const colLeft = [112, 477, 836], rowTop = [19, 278, 536];
const W = 337, H = 206, PADL = 80, PADT = 24, PADR = 10, PADB = 50;

Chart.defaults.font.family = '"Liberation Sans", Arial, Helvetica, sans-serif';

const zeroPlugin = {id:'zeroLine', afterDatasetDraw(chart, args){
  const ds = chart.data.datasets[args.index];
  if (ds.role !== 'blue') return;
  const {ctx, chartArea:a, scales:{x, y}} = chart;
  ctx.save();
  ctx.beginPath(); ctx.rect(a.left, a.top, a.width, a.height); ctx.clip();
  ctx.strokeStyle = ZERO; ctx.lineWidth = 1.3; ctx.setLineDash([11, 7]);
  const yy = y.getPixelForValue(0);
  ctx.beginPath();
  ctx.moveTo(x.getPixelForValue(weeks[0]), yy);
  ctx.lineTo(x.getPixelForValue(weeks[weeks.length - 1]), yy);
  ctx.stroke();
  ctx.restore();
}};
const tickPlugin = {id:'inTicks', afterDraw(chart){
  const {ctx, chartArea:a, scales:{x, y}} = chart;
  ctx.save(); ctx.strokeStyle = AXIS; ctx.lineWidth = 1;
  ctx.beginPath();
  y.ticks.forEach(t => { const p = Math.round(y.getPixelForValue(t.value)) + 0.5; ctx.moveTo(a.left, p); ctx.lineTo(a.left + 5, p); });
  x.ticks.forEach(t => { const p = Math.round(x.getPixelForValue(t.value)) + 0.5; ctx.moveTo(p, a.bottom); ctx.lineTo(p, a.bottom - 5); });
  ctx.stroke(); ctx.restore();
}};

const pts = a => weeks.map((w, k) => ({x: w, y: a[k]}));

panelDefs.forEach((p, i) => {
  const col = i % 3, row = Math.floor(i / 3);
  const L = colLeft[col], T = rowTop[row];
  const cv = document.createElement('canvas');
  cv.width = W + PADL + PADR; cv.height = H + PADT + PADB;
  cv.style.left = (L - PADL) + 'px'; cv.style.top = (T - PADT) + 'px';
  document.body.appendChild(cv);

  const ds = [
    {role:'rHi', data:pts(p.rHi), borderColor:RED_EDGE, borderWidth:1, backgroundColor:RED_FILL, fill:'+1', order:10},
    {role:'rLo', data:pts(p.rLo), borderColor:RED_EDGE, borderWidth:1, fill:false, order:9},
    {role:'bHi', data:pts(p.bHi), borderColor:BLUE_EDGE, borderWidth:1, backgroundColor:BLUE_FILL, fill:'+1', order:8},
    {role:'bLo', data:pts(p.bLo), borderColor:BLUE_EDGE, borderWidth:1, fill:false, order:7}
  ];
  if (p.dot) ds.push({role:'dot', data:pts(p.dot), borderColor:DOT, borderWidth:1.5, borderDash:[2,4], fill:false, order:6});
  ds.push({role:'blue', label:'BEPS-Chl leaf', data:pts(p.blue), borderColor:BLUE, borderWidth:2.5, fill:false, order:5});
  ds.push({role:'red', label:'BEPS-TRY', data:pts(p.red), borderColor:RED, borderWidth:2.5, fill:false, order:3});

  const ch = new Chart(cv, {
    type:'line',
    data:{datasets:ds},
    options:{
      responsive:false, animation:false, devicePixelRatio:1,
      layout:{padding:{left:0, top:PADT, right:PADR, bottom:0}},
      plugins:{legend:{display:false}, tooltip:{enabled:false}},
      elements:{point:{radius:0, hoverRadius:0}, line:{tension:0}},
      events:[],
      scales:{
        x:{type:'linear', min:-0.8, max:53,
          afterBuildTicks:s => { s.ticks = xTicks.map(v => ({value:v})); },
          afterFit:s => { s.height = PADB; },
          grid:{display:false, drawTicks:false},
          border:{display:true, color:AXIS, width:1},
          ticks:{display:row === 2, padding:10, color:TICK, font:{size:18}, maxRotation:0, autoSkip:false}},
        y:{type:'linear', min:-11, max:10,
          afterBuildTicks:s => { s.ticks = yTicks.map(v => ({value:v})); },
          afterFit:s => { s.width = PADL; },
          grid:{display:false, drawTicks:false},
          border:{display:true, color:AXIS, width:1},
          ticks:{display:col === 0, padding:10, color:TICK, font:{size:18},
            callback:v => v < 0 ? '\u2212' + Math.abs(v) : String(v)}}
      }
    },
    plugins:[zeroPlugin, tickPlugin]
  });
  // make every chart area exactly W x H: correct the top padding if labels added extra space
  const extra = ch.chartArea.top - PADT;
  if (Math.abs(extra) > 0.5) {
    ch.options.layout.padding.top = Math.max(0, PADT - extra);
    ch.update('none');
  }
  cv.style.top = (T - ch.chartArea.top) + 'px';
  cv.style.left = (L - ch.chartArea.left) + 'px';

  const t = document.createElement('div');
  t.className = 'ttl';
  t.style.left = (L + 13) + 'px'; t.style.top = (T - 11) + 'px';
  t.innerHTML = '<b>' + p.tag + '</b>' + p.name + '<i style="margin-left:13px">n</i> = ' + p.n;
  document.body.appendChild(t);
});

// y-axis titles
rowTop.forEach(T => {
  const a = document.createElement('div');
  a.className = 'yt'; a.style.left = '25px'; a.style.top = (T + 104) + 'px';
  a.textContent = 'Bias of estimated GPP';
  document.body.appendChild(a);
  const b = document.createElement('div');
  b.className = 'yt'; b.style.left = '51px'; b.style.top = (T + 68) + 'px';
  b.innerHTML = '(g m<sup>\u22122</sup>d<sup>\u22121</sup>)';
  document.body.appendChild(b);
});
// x-axis titles
colLeft.forEach(L => {
  const d = document.createElement('div');
  d.className = 'xt'; d.style.left = (L + 168) + 'px'; d.style.top = '791px';
  d.textContent = 'Week of year';
  document.body.appendChild(d);
});
// legend
const legendItems = [
  {color:BLUE, x:476, w:54, tx:542, html:'BEPS-Chl<sub>leaf</sub>'},
  {color:RED, x:652, w:56, tx:715, html:'BEPS-TRY'}
];
legendItems.forEach(it => {
  const s = document.createElement('div');
  s.className = 'lg'; s.style.left = it.x + 'px'; s.style.top = '811px'; s.style.width = it.w + 'px'; s.style.background = it.color;
  document.body.appendChild(s);
  const tx = document.createElement('div');
  tx.className = 'lt'; tx.style.left = it.tx + 'px'; tx.style.top = '811px';
  tx.innerHTML = it.html;
  document.body.appendChild(tx);
});
</script>
</body></html>
